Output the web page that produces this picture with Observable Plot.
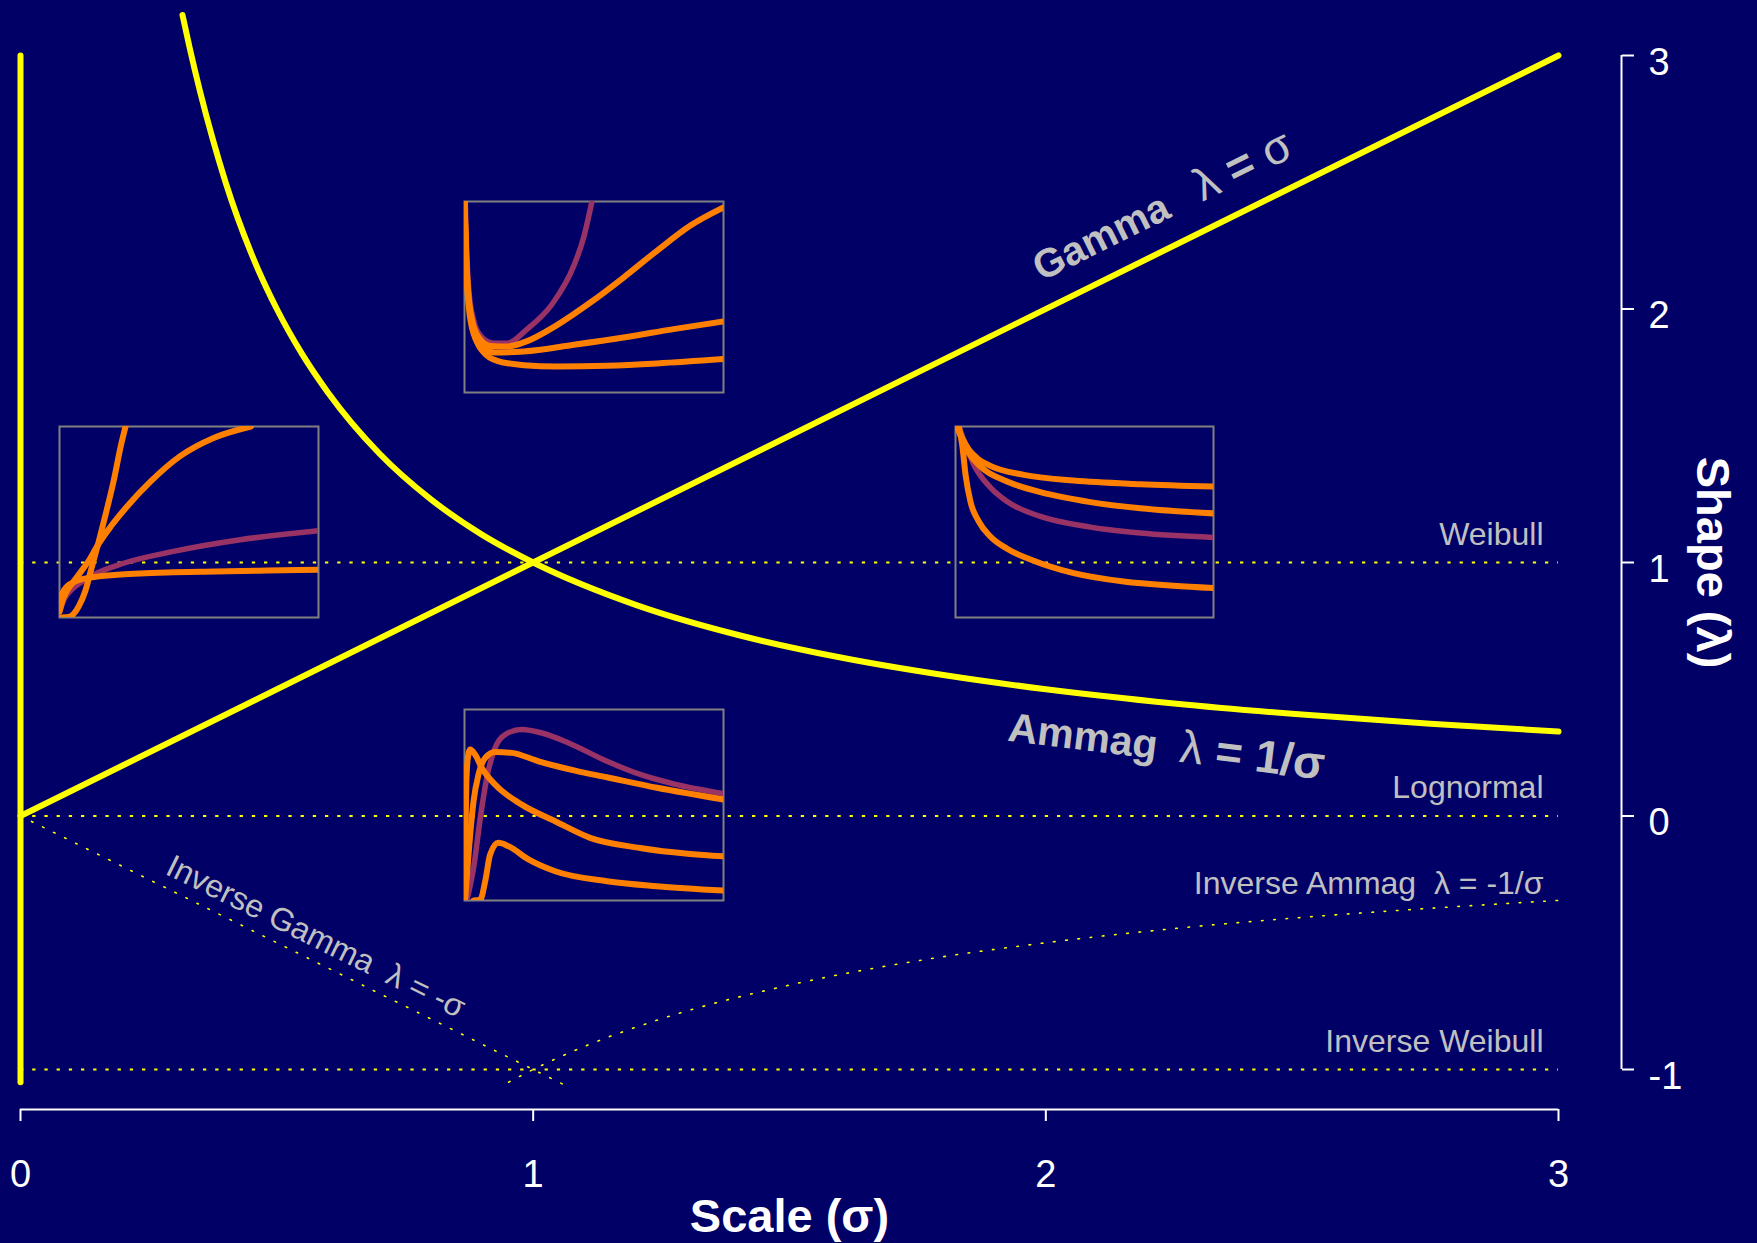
<!DOCTYPE html>
<html>
<head>
<meta charset="utf-8">
<script src="https://cdn.jsdelivr.net/npm/d3@7"></script>
<script src="https://cdn.jsdelivr.net/npm/@observablehq/plot@0.6"></script>
<style>
  html, body { margin: 0; padding: 0; background: #000066; }
  #chart { position: relative; width: 1757px; height: 1243px; overflow: hidden; }
  #chart svg { position: absolute; }
  #chart text { white-space: pre; }
</style>
</head>
<body>
<div id="chart"></div>
<script>
// ---------------- data ----------------
const xTicks = [0, 1, 2, 3];
const yTicks = [-1, 0, 1, 2, 3];
const xTitle = "Scale (σ)";
const yTitle = "Shape (λ)";

// σ = 0 boundary
const boundarySigma = [0, 0];
const boundaryLambda = [3, -1.05];
// Gamma  λ = σ
const gammaSigma = [0, 3];
const gammaLambda = [0, 3];
// Ammag  λ = 1/σ
const ammagSigma  = [0.316, 0.33, 0.35, 0.375, 0.4, 0.45, 0.5, 0.55, 0.6, 0.7, 0.8, 0.9, 1.0, 1.2, 1.4, 1.6, 1.8, 2.0, 2.25, 2.5, 2.75, 3.0];
const ammagLambda = [3.16, 3.03, 2.86, 2.67, 2.5, 2.22, 2.0, 1.82, 1.67, 1.43, 1.25, 1.11, 1.0, 0.833, 0.714, 0.625, 0.556, 0.5, 0.444, 0.4, 0.364, 0.333];
// Inverse Gamma  λ = -σ
const invGammaSigma = [0, 1.06];
const invGammaLambda = [0, -1.06];
// Inverse Ammag  λ = -1/σ
const invAmmagSigma  = [0.952, 1.0, 1.1, 1.25, 1.5, 1.75, 2.0, 2.25, 2.5, 2.75, 3.0];
const invAmmagLambda = [-1.05, -1.0, -0.909, -0.8, -0.667, -0.571, -0.5, -0.444, -0.4, -0.364, -0.333];
// reference lines
const refLambda = [1, 0, -1];
const refNames = ["Weibull", "Lognormal", "Inverse Weibull"];
const curveLabels = ["Gamma   λ = σ", "Ammag  λ = 1/σ", "Inverse Gamma  λ = -σ", "Inverse Ammag  λ = -1/σ"];

// inset hazard curves, normalised (u: time 0..1, v: hazard 0..1)
const topPurpleU  = [0.003, 0.008, 0.017, 0.036, 0.062, 0.113, 0.165, 0.242, 0.338, 0.422, 0.46, 0.492];
const topPurpleV  = [1, 0.759, 0.532, 0.375, 0.297, 0.258, 0.258, 0.332, 0.462, 0.663, 0.812, 1];
const topOrangeAU = [0, 0.005, 0.013, 0.03, 0.055, 0.1, 0.165, 0.229, 0.357, 0.486, 0.614, 0.743, 0.871, 1];
const topOrangeAV = [1, 0.759, 0.532, 0.375, 0.288, 0.244, 0.241, 0.262, 0.353, 0.471, 0.602, 0.742, 0.873, 0.969];
const topOrangeBU = [0, 0.006, 0.017, 0.036, 0.068, 0.12, 0.229, 0.422, 0.614, 0.807, 1];
const topOrangeBV = [1, 0.672, 0.445, 0.305, 0.236, 0.209, 0.215, 0.25, 0.288, 0.332, 0.372];
const topOrangeCU = [0, 0.008, 0.021, 0.042, 0.075, 0.126, 0.229, 0.357, 0.55, 0.743, 1];
const topOrangeCV = [1, 0.672, 0.428, 0.288, 0.209, 0.166, 0.143, 0.136, 0.14, 0.152, 0.175];

const leftPurpleU  = [0, 0.02, 0.05, 0.09, 0.144, 0.247, 0.44, 0.698, 1];
const leftPurpleV  = [0.03, 0.1, 0.15, 0.19, 0.232, 0.284, 0.346, 0.407, 0.454];
const leftSteepU   = [0.009, 0.04, 0.075, 0.1, 0.12, 0.15, 0.18, 0.21, 0.237, 0.255];
const leftSteepV   = [0, 0.005, 0.06, 0.14, 0.24, 0.39, 0.55, 0.72, 0.9, 1];
const leftConcaveU = [0, 0.012, 0.029, 0.055, 0.08, 0.119, 0.144, 0.2, 0.26, 0.35, 0.466, 0.595, 0.739];
const leftConcaveV = [0.03, 0.09, 0.14, 0.19, 0.235, 0.31, 0.37, 0.48, 0.58, 0.71, 0.845, 0.94, 1];
const leftFlatU    = [0, 0.009, 0.029, 0.067, 0.119, 0.222, 0.415, 0.6, 0.8, 1];
const leftFlatV    = [0.04, 0.119, 0.162, 0.192, 0.209, 0.224, 0.236, 0.241, 0.246, 0.25];

const rightPurpleU  = [0.013, 0.039, 0.071, 0.135, 0.2, 0.329, 0.523, 0.716, 1];
const rightPurpleV  = [1, 0.904, 0.8, 0.681, 0.607, 0.529, 0.473, 0.442, 0.419];
const rightOrangeAU = [0.006, 0.026, 0.052, 0.084, 0.135, 0.265, 0.458, 0.716, 1];
const rightOrangeAV = [1, 0.939, 0.878, 0.834, 0.794, 0.747, 0.717, 0.698, 0.686];
const rightOrangeBU = [0.006, 0.026, 0.052, 0.097, 0.2, 0.329, 0.523, 0.716, 1];
const rightOrangeBV = [1, 0.93, 0.86, 0.79, 0.712, 0.656, 0.604, 0.572, 0.545];
const rightOrangeCU = [0.013, 0.026, 0.039, 0.058, 0.09, 0.135, 0.2, 0.303, 0.458, 0.652, 0.845, 1];
const rightOrangeCV = [1, 0.904, 0.747, 0.607, 0.503, 0.424, 0.36, 0.297, 0.232, 0.188, 0.166, 0.154];

const botPurpleU  = [0.009, 0.035, 0.061, 0.086, 0.118, 0.157, 0.221, 0.299, 0.402, 0.55, 0.678, 0.807, 1];
const botPurpleV  = [0, 0.171, 0.432, 0.642, 0.799, 0.869, 0.895, 0.877, 0.825, 0.729, 0.66, 0.611, 0.56];
const botSpikeU   = [0.002, 0.004, 0.007, 0.013, 0.022, 0.041, 0.067, 0.118, 0.221, 0.35, 0.485, 0.678, 0.871, 1];
const botSpikeV   = [0.014, 0.347, 0.61, 0.747, 0.79, 0.764, 0.694, 0.607, 0.502, 0.415, 0.328, 0.275, 0.244, 0.232];
const botOrangeBU = [0.003, 0.022, 0.035, 0.054, 0.08, 0.118, 0.183, 0.286, 0.427, 0.55, 0.743, 1];
const botOrangeBV = [0.014, 0.346, 0.52, 0.66, 0.747, 0.778, 0.773, 0.729, 0.68, 0.645, 0.59, 0.529];
const botLowU     = [0.035, 0.061, 0.08, 0.099, 0.131, 0.17, 0.247, 0.35, 0.55, 0.743, 1];
const botLowV     = [0, 0.005, 0.101, 0.241, 0.302, 0.284, 0.215, 0.153, 0.101, 0.075, 0.052];

// ---------------- layout / style ----------------
const W = 1757, H = 1243;
const FONT = "'Liberation Sans', Arial, Helvetica, sans-serif";
const BG = "#000066", YELLOW = "#ffff00", SILVER = "#c0c0c0";
const ORANGE = "#ff8000", PURPLE = "#993366", FRAME = "#808080";

// inset placement in (σ, λ) units
const insetLayout = [
  {s: [0.866, 1.371], l: [1.670, 2.423], curves: [[topPurpleU, topPurpleV, PURPLE], [topOrangeAU, topOrangeAV, ORANGE], [topOrangeBU, topOrangeBV, ORANGE], [topOrangeCU, topOrangeCV, ORANGE]]},
  {s: [0.0766, 0.582], l: [0.785, 1.538], curves: [[leftPurpleU, leftPurpleV, PURPLE], [leftSteepU, leftSteepV, ORANGE], [leftConcaveU, leftConcaveV, ORANGE], [leftFlatU, leftFlatV, ORANGE]]},
  {s: [1.824, 2.328], l: [0.785, 1.538], curves: [[rightPurpleU, rightPurpleV, PURPLE], [rightOrangeAU, rightOrangeAV, ORANGE], [rightOrangeBU, rightOrangeBV, ORANGE], [rightOrangeCU, rightOrangeCV, ORANGE]]},
  {s: [0.866, 1.371], l: [-0.333, 0.421], curves: [[botPurpleU, botPurpleV, PURPLE], [botSpikeU, botSpikeV, ORANGE], [botOrangeBU, botOrangeBV, ORANGE], [botLowU, botLowV, ORANGE]]}
];

const pts = (a, b) => d3.zip(a, b);
const solid = {stroke: YELLOW, strokeWidth: 6, strokeLinecap: "round", strokeLinejoin: "round"};
const dotted = {stroke: YELLOW, strokeWidth: 1.6, strokeDasharray: "1.6,10.7"};
const lastX = xTicks[xTicks.length - 1];

const main = Plot.plot({
  width: W, height: H,
  marginLeft: 20, marginRight: 199, marginTop: 55, marginBottom: 174,
  x: {domain: [xTicks[0], lastX], label: null},
  y: {domain: [yTicks[0], yTicks[yTicks.length - 1]], label: null},
  style: {background: BG, color: "white", fontFamily: FONT, overflow: "visible"},
  marks: [
    // reference dotted lines
    Plot.ruleY(refLambda, {x1: xTicks[0], x2: lastX, stroke: YELLOW, strokeWidth: 2, strokeDasharray: "3.3,8.9"}),
    Plot.line(pts(invGammaSigma, invGammaLambda), {x: d => d[0], y: d => d[1], ...dotted}),
    Plot.line(pts(invAmmagSigma, invAmmagLambda), {x: d => d[0], y: d => d[1], curve: "monotone-x", ...dotted}),
    // solid boundaries
    Plot.line(pts(boundarySigma, boundaryLambda), {x: d => d[0], y: d => d[1], ...solid}),
    Plot.line(pts(gammaSigma, gammaLambda), {x: d => d[0], y: d => d[1], ...solid}),
    Plot.line(pts(ammagSigma, ammagLambda), {x: d => d[0], y: d => d[1], curve: "monotone-x", ...solid}),
    // reference labels
    Plot.text(refNames, {x: lastX, y: (d, i) => refLambda[i], text: d => d, textAnchor: "end", lineAnchor: "middle", dx: -15, dy: -28, fontSize: 32, fill: SILVER}),
    // curve labels
    Plot.text([curveLabels[0]], {x: 2.228, y: 2.402, text: d => d, rotate: -26.3, fontSize: 40, fontWeight: "bold", fill: SILVER}),
    Plot.text([curveLabels[1]], {x: 2.235, y: 0.272, text: d => d, rotate: 7, fontSize: 41, fontWeight: "bold", fill: SILVER}),
    Plot.text([curveLabels[2]], {x: 0.576, y: -0.477, text: d => d, rotate: 26.3, fontSize: 32, fill: SILVER}),
    Plot.text([curveLabels[3]], {x: invAmmagSigma[invAmmagSigma.length - 1], y: invAmmagLambda[invAmmagLambda.length - 1], text: d => d, textAnchor: "end", lineAnchor: "middle", dx: -15, dy: -17, fontSize: 32, fill: SILVER}),
    // x axis
    Plot.ruleY([yTicks[0]], {x1: xTicks[0], x2: lastX, dy: 40, stroke: "white", strokeWidth: 2}),
    Plot.axisX({ticks: xTicks, anchor: "bottom", tickSize: 12, tickPadding: 39, dy: 40, fontSize: 38, strokeWidth: 2, label: null, tickFormat: d => String(d), color: "white"}),
    // y axis (ticks, then labels nudged slightly below the ticks)
    Plot.ruleX([lastX], {y1: yTicks[0], y2: yTicks[yTicks.length - 1], dx: 63, stroke: "white", strokeWidth: 2}),
    Plot.axisY({ticks: yTicks, anchor: "right", tickSize: 12, dx: 63, strokeWidth: 2, label: null, tickFormat: () => "", color: "white"}),
    Plot.axisY({ticks: yTicks, anchor: "right", tickSize: 0, tickPadding: 27, dx: 63, dy: 7, fontSize: 38, label: null, tickFormat: d => String(d), color: "white"}),
    // axis titles
    Plot.text([xTitle], {frameAnchor: "bottom", text: d => d, textAnchor: "middle", lineAnchor: "middle", dy: 147, fontSize: 47, fontWeight: "bold", fill: "white"}),
    Plot.text([yTitle], {frameAnchor: "right", text: d => d, textAnchor: "middle", lineAnchor: "middle", dx: 154, rotate: 90, fontSize: 47, fontWeight: "bold", fill: "white"})
  ]
});

// mixed-size typesetting for the two bold curve labels
const SVGNS = "http://www.w3.org/2000/svg";
function typeset(svg, full, parts) {
  svg.querySelectorAll("text").forEach(t => {
    if (t.textContent === full) {
      t.textContent = "";
      t.setAttribute("xml:space", "preserve");
      for (const [s, size, weight] of parts) {
        const ts = document.createElementNS(SVGNS, "tspan");
        ts.textContent = s;
        ts.setAttribute("font-size", size);
        ts.setAttribute("font-weight", weight);
        t.appendChild(ts);
      }
    }
  });
}
typeset(main, curveLabels[0], [["Gamma", 40, "bold"], ["   ", 40, "bold"], ["λ", 46, "normal"], [" = ", 46, "bold"], ["σ", 46, "normal"]]);
typeset(main, curveLabels[1], [["Ammag", 41, "bold"], ["  ", 41, "bold"], ["λ", 46, "normal"], [" = ", 46, "bold"], ["1/σ", 46, "bold"]]);

const chart = document.getElementById("chart");
main.style.left = "0px"; main.style.top = "0px";
chart.appendChild(main);

const sx = main.scale("x"), sy = main.scale("y");
for (const box of insetLayout) {
  const left = sx.apply(box.s[0]), right = sx.apply(box.s[1]);
  const top = sy.apply(box.l[1]), bottom = sy.apply(box.l[0]);
  const w = Math.round(right - left), h = Math.round(bottom - top);
  const svg = Plot.plot({
    width: w, height: h, margin: 0,
    x: {domain: [0, 1], axis: null},
    y: {domain: [0, 1], axis: null},
    style: {background: "transparent", overflow: "visible"},
    marks: [
      Plot.frame({stroke: FRAME, strokeWidth: 2}),
      ...box.curves.map(([u, v, c]) => Plot.line(pts(u, v), {
        x: d => d[0], y: d => d[1], stroke: c,
        strokeWidth: c === PURPLE ? 5.5 : 6, curve: "monotone-x", clip: true
      }))
    ]
  });
  svg.style.left = Math.round(left) + "px";
  svg.style.top = Math.round(top) + "px";
  chart.appendChild(svg);
}
</script>
</body>
</html>
